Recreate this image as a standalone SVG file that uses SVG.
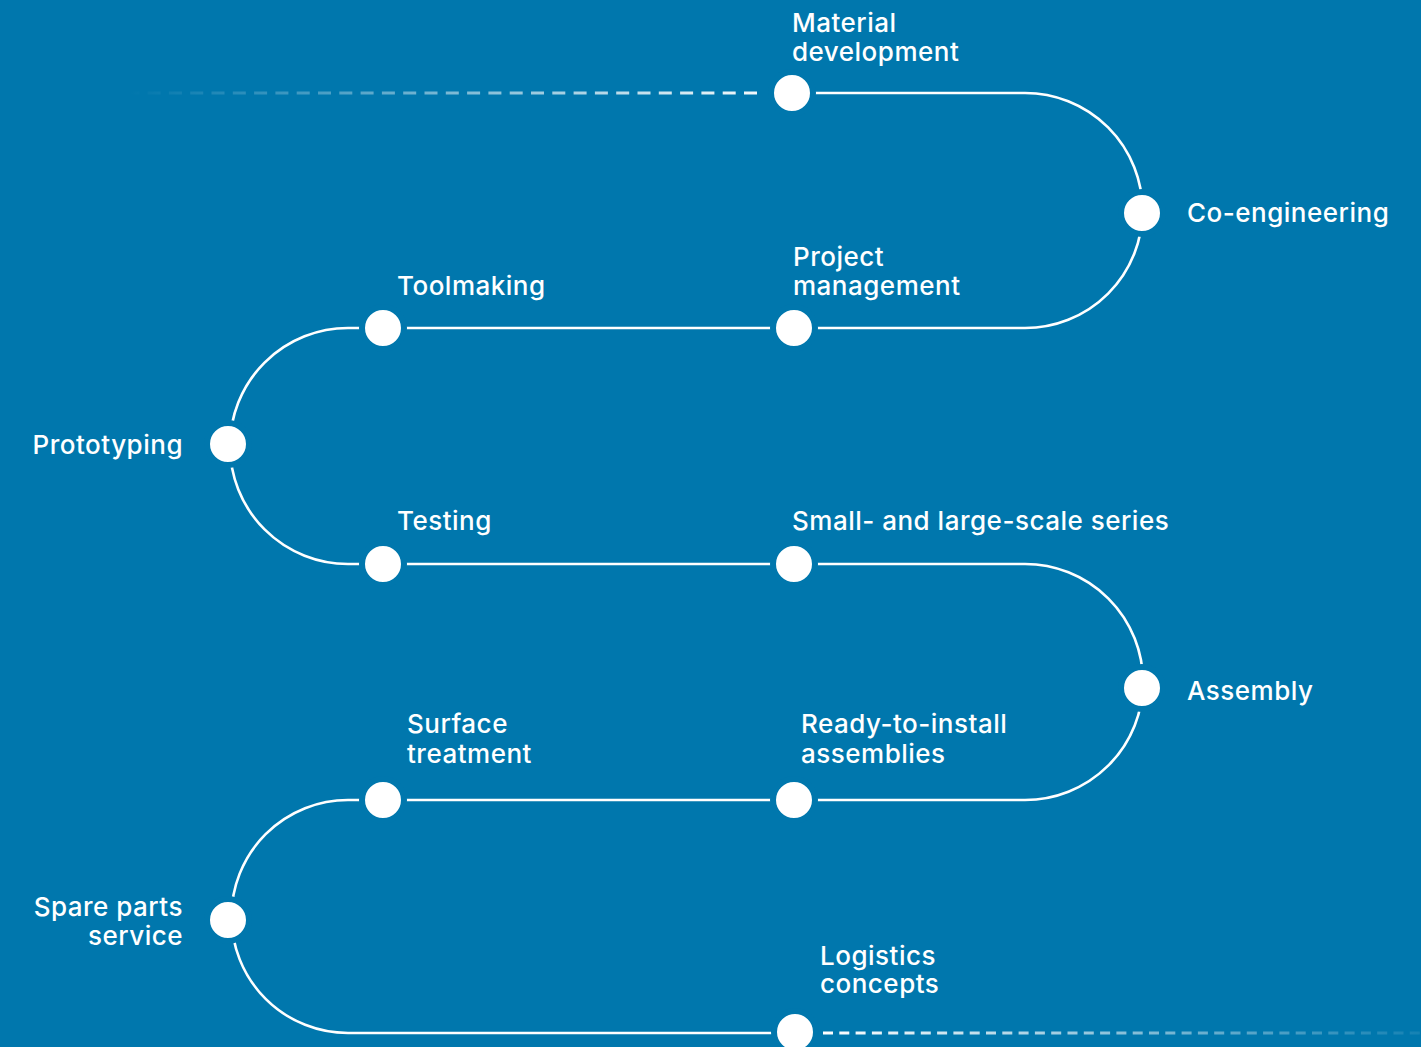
<svg xmlns="http://www.w3.org/2000/svg" width="1421" height="1047" viewBox="0 0 1421 1047">
<defs>
<linearGradient id="fadeIn" gradientUnits="userSpaceOnUse" x1="130" y1="0" x2="757" y2="0">
<stop offset="0" stop-color="#ffffff" stop-opacity="0"/>
<stop offset="1" stop-color="#ffffff" stop-opacity="0.95"/>
</linearGradient>
<linearGradient id="fadeOut" gradientUnits="userSpaceOnUse" x1="823" y1="0" x2="1421" y2="0">
<stop offset="0" stop-color="#ffffff" stop-opacity="1"/>
<stop offset="1" stop-color="#ffffff" stop-opacity="0.08"/>
</linearGradient>
</defs>
<style>
.bg{fill:#0077AD}
.edge{fill:none;stroke:#ffffff;stroke-width:2.6}
.dash1{fill:none;stroke:url(#fadeIn);stroke-width:3;stroke-dasharray:13 8.3}
.dash2{fill:none;stroke:url(#fadeOut);stroke-width:3;stroke-dasharray:10 6.3}
.dot{fill:#ffffff;stroke:#0077AD;stroke-width:6}
.lbl{font-family:Inter,"Noto Sans",sans-serif;font-size:26px;font-weight:500;fill:#ffffff;letter-spacing:0.5px}
.r{text-anchor:end}
</style>
<rect class="bg" x="0" y="0" width="1421" height="1047"/>
<g id="connectors">
<path class="dash1" d="M757 93 H130"/>
<path class="edge" d="M792 93 H1025 A117.5 117.5 0 0 1 1142.5 210.5"/>
<path class="edge" d="M1142.5 210.5 A117.5 117.5 0 0 1 1025 328 H794"/>
<path class="edge" d="M794 328 H383"/>
<path class="edge" d="M383 328 H348 A118 118 0 0 0 230 446"/>
<path class="edge" d="M230 446 A118 118 0 0 0 348 564 H383"/>
<path class="edge" d="M383 564 H794"/>
<path class="edge" d="M794 564 H1025 A118 118 0 0 1 1143 682"/>
<path class="edge" d="M1143 682 A118 118 0 0 1 1025 800 H794"/>
<path class="edge" d="M794 800 H383"/>
<path class="edge" d="M383 800 H348 A116.5 116.5 0 0 0 231.5 916.5"/>
<path class="edge" d="M231.5 916.5 A116.5 116.5 0 0 0 348 1033 H795"/>
<path class="dash2" d="M823 1033 H1421"/>
</g>
<g id="material-development">
<circle class="dot" cx="792" cy="93" r="21"/>
<text class="lbl" x="792" y="32">Material</text>
<text class="lbl" x="792" y="61">development</text>
</g>
<g id="co-engineering">
<circle class="dot" cx="1142" cy="213" r="21"/>
<text class="lbl" x="1187" y="222">Co-engineering</text>
</g>
<g id="project-management">
<circle class="dot" cx="794" cy="328" r="21"/>
<text class="lbl" x="793" y="266">Project</text>
<text class="lbl" x="793" y="295">management</text>
</g>
<g id="toolmaking">
<circle class="dot" cx="383" cy="328" r="21"/>
<text class="lbl" x="397" y="295">Toolmaking</text>
</g>
<g id="prototyping">
<circle class="dot" cx="228" cy="444" r="21"/>
<text class="lbl r" x="183" y="454">Prototyping</text>
</g>
<g id="testing">
<circle class="dot" cx="383" cy="564" r="21"/>
<text class="lbl" x="397" y="530">Testing</text>
</g>
<g id="small-large-series">
<circle class="dot" cx="794" cy="564" r="21"/>
<text class="lbl" x="792" y="530">Small- and large-scale series</text>
</g>
<g id="assembly">
<circle class="dot" cx="1142" cy="688" r="21"/>
<text class="lbl" x="1187" y="700">Assembly</text>
</g>
<g id="ready-to-install">
<circle class="dot" cx="794" cy="800" r="21"/>
<text class="lbl" x="801" y="733">Ready-to-install</text>
<text class="lbl" x="801" y="763">assemblies</text>
</g>
<g id="surface-treatment">
<circle class="dot" cx="383" cy="800" r="21"/>
<text class="lbl" x="407" y="733">Surface</text>
<text class="lbl" x="407" y="763">treatment</text>
</g>
<g id="spare-parts-service">
<circle class="dot" cx="228" cy="920" r="21"/>
<text class="lbl r" x="183" y="916">Spare parts</text>
<text class="lbl r" x="183" y="945">service</text>
</g>
<g id="logistics-concepts">
<circle class="dot" cx="795" cy="1032" r="21"/>
<text class="lbl" x="820" y="965">Logistics</text>
<text class="lbl" x="820" y="993">concepts</text>
</g>
</svg>
